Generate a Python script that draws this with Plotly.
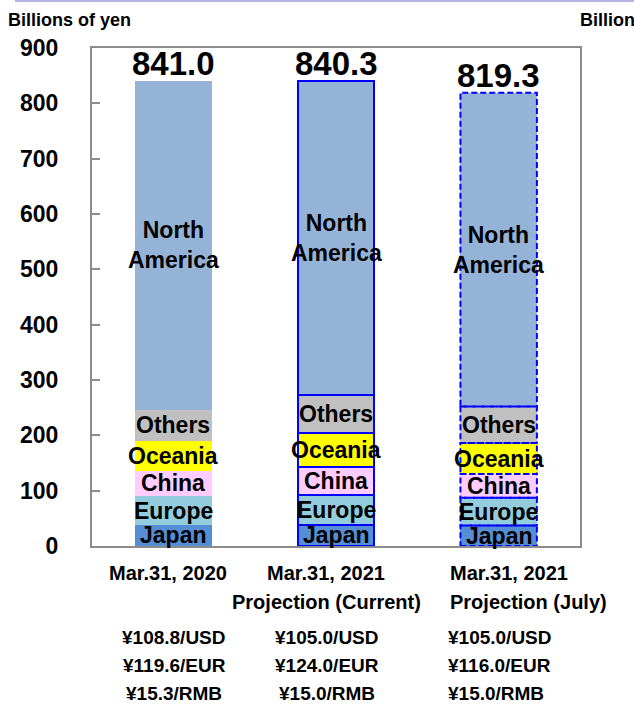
import plotly.graph_objects as go

# Overseas breakdown by region (billions of yen)
columns = ["Mar.31, 2020", "Mar.31, 2021", "Mar.31, 2021"]
column_sub = ["", "Projection (Current)", "Projection (July)"]
region_names = ["Japan", "Europe", "China", "Oceania", "Others", "North America"]
region_labels = ["Japan", "Europe", "China", "Oceania", "Others", "North<br>America"]
japan = [38.0, 38.0, 37.0]
europe = [52.0, 54.0, 50.0]
china = [46.0, 51.0, 43.0]
oceania = [54.0, 61.0, 56.0]
others = [56.0, 69.0, 66.0]
north_america = [595.0, 567.3, 567.3]
usd_rate = ["¥108.8/USD", "¥105.0/USD", "¥105.0/USD"]
eur_rate = ["¥119.6/EUR", "¥124.0/EUR", "¥116.0/EUR"]
rmb_rate = ["¥15.3/RMB", "¥15.0/RMB", "¥15.0/RMB"]
y_ticks = [0, 100, 200, 300, 400, 500, 600, 700, 800, 900]

series = [japan, europe, china, oceania, others, north_america]
colors = ["#558ED5", "#93CDDD", "#FFCCFF", "#FFFF00", "#C0C0C0", "#95B3D7"]

FONT = "Liberation Sans, Arial, sans-serif"
BLUE = "#0000FF"
BAR_W = 0.47
xs = list(range(len(columns)))

fig = go.Figure()
for name, vals, col in zip(region_names, series, colors):
    fig.add_trace(go.Bar(
        x=xs, y=vals, name=name, width=BAR_W,
        marker=dict(color=col,
                    line=dict(color=["rgba(0,0,0,0)", BLUE, "rgba(0,0,0,0)"],
                              width=[0, 2, 0])),
        hoverinfo="skip",
    ))

annotations = []
shapes = []

# segment labels and dashed outline for the July projection
for i in xs:
    base = 0.0
    for lbl, vals in zip(region_labels, series):
        v = vals[i]
        annotations.append(dict(
            x=i, y=base + v / 2, xref="x", yref="y", text=lbl, showarrow=False,
            font=dict(family=FONT, size=23, color="black", weight="bold"),
            xanchor="center", yanchor="middle"))
        if i == 2:
            shapes.append(dict(
                type="rect", xref="x", yref="y", layer="above",
                x0=i - BAR_W / 2, x1=i + BAR_W / 2, y0=base, y1=base + v,
                line=dict(color=BLUE, width=2, dash="6px,3px")))
        base += v
    annotations.append(dict(
        x=i, y=base, xref="x", yref="y", text=f"{base:.1f}", showarrow=False,
        font=dict(family=FONT, size=33, color="black", weight="bold"),
        xanchor="center", yanchor="bottom", yshift=-3))

# category captions and exchange rates below the axis
def paper_y(px):
    return (546 - px) / 498

cap_font = dict(family=FONT, size=20, color="black", weight="bold")
rate_font = dict(family=FONT, size=19, color="black", weight="bold")
cap_anchor = [("center", -5), ("center", -10), ("left", -51)]
rate_anchor = [("center", 1), ("center", -9), ("left", -53)]
for i in xs:
    xa, dx = cap_anchor[i]
    annotations.append(dict(x=i, y=paper_y(573), xref="x", yref="paper", text=columns[i],
                            showarrow=False, font=cap_font, xanchor=xa, xshift=dx,
                            yanchor="middle"))
    if column_sub[i]:
        annotations.append(dict(x=i, y=paper_y(602), xref="x", yref="paper",
                                text=column_sub[i], showarrow=False, font=cap_font,
                                xanchor=xa, xshift=dx, yanchor="middle"))
    xa, dx = rate_anchor[i]
    for txt, py in zip([usd_rate[i], eur_rate[i], rmb_rate[i]], [637, 665, 693]):
        annotations.append(dict(x=i, y=paper_y(py), xref="x", yref="paper", text=txt,
                                showarrow=False, font=rate_font, xanchor=xa, xshift=dx,
                                yanchor="middle"))

# unit captions (the second belongs to the neighbouring panel and runs off the edge)
unit_font = dict(family=FONT, size=18, color="black", weight="bold")
annotations.append(dict(x=(6 - 92) / 488, y=paper_y(20), xref="paper", yref="paper",
                        text="Billions of yen", showarrow=False, xanchor="left",
                        yanchor="middle", font=unit_font))
annotations.append(dict(x=(578 - 92) / 488, y=paper_y(20), xref="paper", yref="paper",
                        text="Billions of yen", showarrow=False, xanchor="left",
                        yanchor="middle", font=unit_font))

# thin rule along the top edge
shapes.append(dict(type="line", xref="paper", yref="paper",
                   x0=(15 - 92) / 488, x1=(640 - 92) / 488, y0=paper_y(1), y1=paper_y(1),
                   line=dict(color="#B4B4E6", width=2)))

fig.update_layout(
    width=634, height=704,
    margin=dict(l=92, r=54, t=48, b=158),
    barmode="stack", bargap=0,
    showlegend=False,
    plot_bgcolor="white", paper_bgcolor="white",
    font=dict(family=FONT, color="black"),
    annotations=annotations, shapes=shapes,
    xaxis=dict(range=[-0.5, 2.5], showticklabels=False, ticks="", showgrid=False,
               zeroline=False, showline=True, linecolor="#8C8C8C", linewidth=2,
               mirror=True, fixedrange=True),
    yaxis=dict(range=[0, 900], tickvals=y_ticks, ticks="inside", ticklen=8,
               tickwidth=1.5, tickcolor="#8C8C8C", showgrid=False, zeroline=False,
               showline=True, linecolor="#8C8C8C", linewidth=2, mirror=True,
               tickfont=dict(family=FONT, size=23, color="black", weight="bold"),
               ticklabelstandoff=27, fixedrange=True),
)

fig.write_html("out.html")
